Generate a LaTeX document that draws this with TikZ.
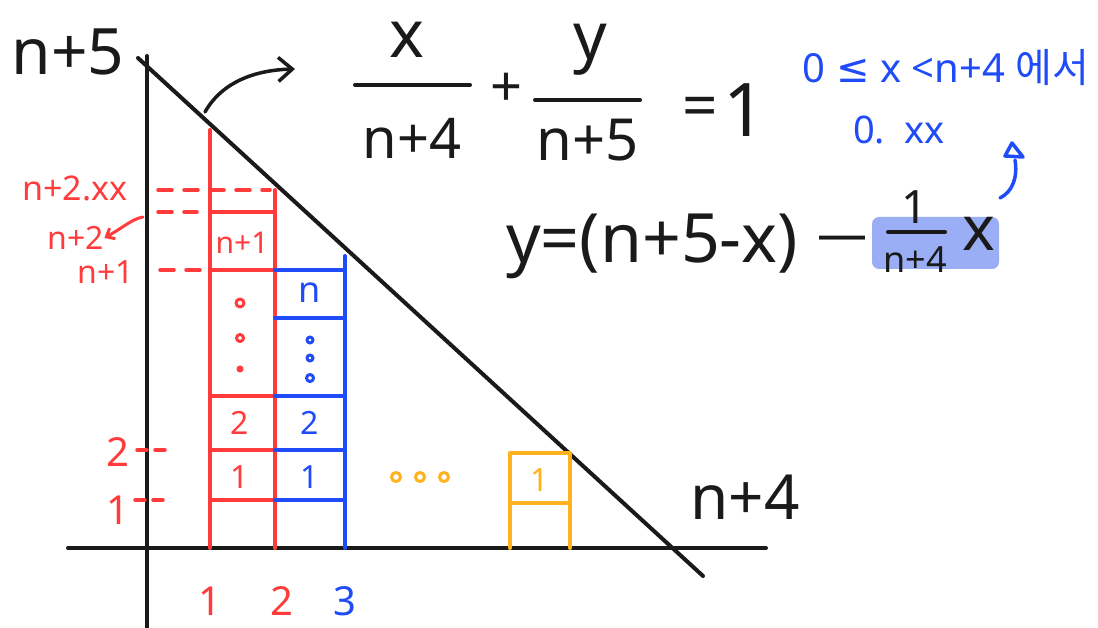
\documentclass[tikz,border=0pt]{standalone}
\usepackage{fontspec}
\setmainfont{Noto Sans}
\newfontfamily\krfont{Noto Sans CJK KR}
\newfontfamily\symfont{DejaVu Sans}
\usetikzlibrary{arrows.meta}
\definecolor{myred}{HTML}{FF3B3B}
\definecolor{myblue}{HTML}{1F4BF8}
\definecolor{myorange}{HTML}{FFB21E}
\definecolor{hilite}{HTML}{9AAEF6}
\definecolor{ink}{HTML}{1A1A1A}
\newcommand{\fsz}[1]{\fontsize{#1}{#1}\selectfont}
\begin{document}
\begin{tikzpicture}[x=1pt,y=-1pt,line cap=round,line join=round,
  axisline/.style={draw=ink,line width=4pt},
  redline/.style={draw=myred,line width=4pt},
  blueline/.style={draw=myblue,line width=4pt},
  orangeline/.style={draw=myorange,line width=4pt},
  reddash/.style={draw=myred,line width=3.5pt,dash pattern=on 14pt off 12pt},
  lbl/.style={inner sep=0pt,text=ink},
  rlbl/.style={inner sep=0pt,text=myred},
  blbl/.style={inner sep=0pt,text=myblue},
  olbl/.style={inner sep=0pt,text=myorange}]
\useasboundingbox (0,0) rectangle (1098,628);
\fill[white] (0,0) rectangle (1098,628);

% axes and hypotenuse
\coordinate (xa0) at (68,548); \coordinate (xa1) at (766,548);
\coordinate (ya0) at (147,628); \coordinate (ya1) at (147,56);
\coordinate (h0) at (138,58); \coordinate (h1) at (703,576);
\draw[axisline] (xa0) -- (xa1);
\draw[axisline] (ya0) -- (ya1);
\draw[axisline] (h0) -- (h1);

% red column
\draw[redline] (210,130) -- (210,548);
\draw[redline] (275,190) -- (275,548);
\foreach \yy in {212,270,396,450,500} \draw[redline] (210,\yy) -- (275,\yy);
% blue column
\draw[blueline] (345,256) -- (345,548);
\foreach \yy in {270,318,396,450,500} \draw[blueline] (275,\yy) -- (345,\yy);
% orange column
\draw[orangeline] (510,548) -- (510,453) -- (570,453) -- (570,548);
\draw[orangeline] (510,503) -- (570,503);

% dashed guides
\draw[reddash] (158,190) -- (270,190);
\draw[reddash] (158,212) -- (197,212);
\draw[reddash] (160,270) -- (200,270);
\draw[reddash,dash pattern=on 10pt off 8pt] (137,450) -- (168,450);
\draw[reddash,dash pattern=on 10pt off 8pt] (135,500) -- (166,500);

% axis labels
\node[lbl,font=\fsz{64}] (n5) at (68,52) {n+5};
\node[lbl,font=\fsz{62}] (n4) at (745,497) {n+4};

% left red labels
\node[rlbl,font=\fsz{34}\bfseries] (lab2xx) at (75,188) {n+2.xx};
\node[rlbl,font=\fsz{32}\bfseries] (lab2) at (76,238) {n+2};
\node[rlbl,font=\fsz{32}\bfseries] (lab1) at (106,272) {n+1};
\node[rlbl,font=\fsz{40}] (ly2) at (118,452) {2};
\node[rlbl,font=\fsz{40}] (ly1) at (118,510) {1};
\draw[draw=myred,line width=3pt,-{Straight Barb[length=7pt,width=12pt]}] (143,217) .. controls (132,219) and (124,227) .. (lab2.east);

% bottom labels
\node[rlbl,font=\fsz{40}] (bx1) at (210,601) {1};
\node[rlbl,font=\fsz{40}] (bx2) at (282,601) {2};
\node[blbl,font=\fsz{40}\bfseries] (bx3) at (345,601) {3};

% cell labels
\node[rlbl,font=\fsz{30}\bfseries] (rc1) at (242,243) {n+1};
\node[rlbl,font=\fsz{32}\bfseries] (rc2) at (240,423) {2};
\node[rlbl,font=\fsz{32}] (rc3) at (240,477) {1};
\node[blbl,font=\fsz{36}\bfseries] (bc1) at (310,293) {n};
\node[blbl,font=\fsz{32}\bfseries] (bc2) at (310,423) {2};
\node[blbl,font=\fsz{32}\bfseries] (bc3) at (310,477) {1};
\node[olbl,font=\fsz{32}\bfseries] (oc1) at (540,480) {1};
\draw[myred,line width=3pt] (240,303) circle (4);
\draw[myred,line width=3pt] (240,338) circle (3.5);
\fill[myred] (240,369) circle (3.5);
\draw[myblue,line width=3pt] (310,340) circle (3);
\draw[myblue,line width=3pt] (310,358) circle (3);
\draw[myblue,line width=3pt] (310,378) circle (3.5);
\foreach \xx in {396,420,444} \draw[myorange,line width=3pt] (\xx,477) circle (4.5);

% arrow to formula
\coordinate (arrs) at (205,112);
\coordinate (arre) at (295,69);
\draw[draw=ink,line width=3.5pt,-{Straight Barb[length=14pt,width=24pt]}] (arrs) .. controls (222,82) and (255,70) .. (arre);

% intercept formula
\node[lbl,font=\fsz{66}] (fx) at (407,40) {x};
\draw[draw=ink,line width=4pt] (355,85) -- (470,85);
\node[lbl,font=\fsz{56}] (fn4) at (412,138) {n+4};
\node[lbl,font=\fsz{56}] (fplus) at (507,90) {+};
\node[lbl,font=\fsz{66}] (fy) at (590,50) {y};
\draw[draw=ink,line width=4pt] (535,100) -- (640,100);
\node[lbl,font=\fsz{58}] (fn5) at (588,140) {n+5};
\node[lbl,font=\fsz{62}] (feq) at (700,112) {=};
\node[lbl,font=\fsz{74}] (fone) at (745,110) {1};

% line equation
\fill[hilite,rounded corners=7pt] (872,217) rectangle (999,269);
\node[lbl,font=\fsz{68},anchor=west] (ly) at (506,246) {y=(n+5-x)};
\node[lbl,font=\fsz{50}] (ldash) at (842,244) {—};
\node[lbl,font=\fsz{46}] (lone) at (915,207) {1};
\draw[draw=ink,line width=4pt] (888,232) -- (945,232);
\node[lbl,font=\fsz{36}] (ln4) at (915,260) {n+4};
\node[lbl,font=\fsz{62}] (lx) at (979,234) {x};

% blue notes
\node[blbl,font=\fsz{40}] (cond) at (946,68) {0 {\symfont≤} x <n+4 {\krfont 에서}};
\node[blbl,font=\fsz{38}] (dec) at (899,130) {0.\ \ xx};
\coordinate (bas) at (1000,198);
\coordinate (bat) at (1015,160);
\draw[myblue,line width=3.5pt] (bas) .. controls (1012,192) and (1018,178) .. (bat);
\draw[myblue,line width=3.5pt] (1005,156) -- (1012,143) -- (1023,157) -- cycle;
\end{tikzpicture}
\end{document}
